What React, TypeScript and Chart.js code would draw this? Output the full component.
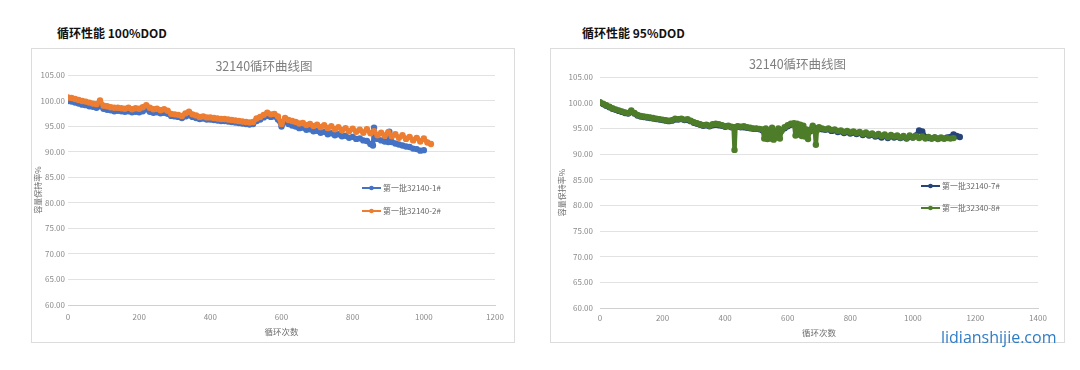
import React, { useEffect, useRef } from "react";
import { Chart, registerables } from "chart.js";
Chart.register(...registerables);

const FONT = "'Noto Sans CJK SC', 'Noto Sans', sans-serif";

// ---------- data ----------
const panelHeaders = ["循环性能 100%DOD", "循环性能 95%DOD"];
const chartTitle = "32140循环曲线图";
const xAxisTitle = "循环次数";
const yAxisTitle = "容量保持率%";
const seriesNamesLeft = ["第一批32140-1#", "第一批32140-2#"];
const seriesNamesRight = ["第一批32140-7#", "第一批32340-8#"];

// cycles for 第一批32140-1#
const cyclesLeft1 = [
  0, 10, 20, 30, 40, 50, 60, 70, 80, 90,
  100, 110, 120, 130, 140, 150, 160, 170, 180, 190,
  200, 210, 220, 230, 240, 250, 260, 270, 280, 290,
  300, 310, 320, 330, 340, 350, 360, 370, 380, 390,
  400, 410, 420, 430, 440, 450, 460, 470, 480, 490,
  500, 510, 520, 530, 540, 550, 560, 570, 580, 590,
  600, 610, 620, 630, 640, 650, 660, 670, 680, 690,
  700, 710, 720, 730, 740, 750, 760, 770, 780, 790,
  800, 810, 820, 830, 840, 850, 857, 860, 863, 870, 880, 890,
  900, 903, 906, 910, 920, 930, 940, 950, 960, 970, 980, 990,
  1000,
];

// 第一批32140-1#
const capacityLeft1 = [
  99.9, 99.8, 99.6, 99.4, 99.2, 99.1, 98.9, 98.8, 98.6, 98.9,
  98.4, 98.2, 98.1, 97.9, 98.0, 97.9, 97.8, 97.9, 97.7, 97.8,
  97.7, 97.9, 98.3, 97.8, 97.6, 97.7, 97.5, 97.6, 97.4, 97.0,
  96.9, 96.8, 96.6, 96.9, 97.1, 96.8, 96.6, 96.4, 96.5, 96.3,
  96.3, 96.2, 96.1, 96.0, 96.0, 95.9, 95.8, 95.7, 95.6, 95.5,
  95.4, 95.3, 95.4, 96.0, 96.3, 96.7, 97.0, 96.8, 96.9, 96.3,
  94.9, 95.8, 95.4, 95.1, 94.9, 94.6, 94.7, 94.3, 94.4, 94.0,
  94.1, 93.7, 93.9, 93.4, 93.6, 93.2, 93.4, 93.0, 93.1, 92.7,
  92.9, 92.5, 92.6, 92.2, 92.1, 91.5, 91.2, 94.7, 92.6, 92.5, 92.2, 92.0,
  91.9, 93.9, 92.0, 91.9, 91.6, 91.4, 91.2, 91.0, 90.9, 90.6, 90.5, 90.2,
  90.3,
];

// cycles for 第一批32140-2#
const cyclesLeft2 = [
  0, 10, 20, 30, 40, 50, 60, 70, 80, 90,
  100, 110, 120, 130, 140, 150, 160, 170, 180, 190,
  200, 210, 220, 230, 240, 250, 260, 270, 280, 290,
  300, 310, 320, 330, 340, 350, 360, 370, 380, 390,
  400, 410, 420, 430, 440, 450, 460, 470, 480, 490,
  500, 510, 520, 530, 540, 550, 560, 570, 580, 590,
  600, 610, 620, 630, 640, 650, 660, 670, 680, 690,
  700, 710, 720, 730, 740, 750, 760, 770, 780, 790,
  800, 810, 820, 830, 840, 850, 860, 870, 880, 890,
  900, 910, 920, 930, 940, 950, 960, 970, 980, 990,
  1000, 1010, 1020,
];

// 第一批32140-2#
const capacityLeft2 = [
  100.6, 100.5, 100.3, 100.1, 99.9, 99.8, 99.6, 99.4, 99.3, 100.0,
  99.0, 98.9, 98.7, 98.6, 98.6, 98.5, 98.4, 98.6, 98.3, 98.5,
  98.4, 98.7, 99.1, 98.6, 98.3, 98.4, 98.1, 98.3, 98.0, 97.4,
  97.3, 97.2, 97.0, 97.5, 97.8, 97.3, 97.1, 96.8, 96.9, 96.7,
  96.7, 96.6, 96.5, 96.4, 96.4, 96.3, 96.2, 96.1, 96.0, 95.9,
  95.8, 95.7, 95.8, 96.5, 96.8, 97.2, 97.6, 97.3, 97.4, 96.9,
  95.4, 96.6, 96.2, 96.0, 95.8, 95.5, 95.6, 95.2, 95.4, 95.0,
  95.3, 94.8, 95.2, 94.6, 95.0, 94.4, 94.8, 94.2, 94.6, 94.0,
  94.5, 93.9, 94.3, 93.7, 94.4, 93.6, 94.0, 93.2, 93.7, 93.1,
  93.8, 93.0, 93.4, 92.7, 93.2, 92.5, 92.9, 92.2, 92.7, 92.0,
  92.6, 91.8, 91.5,
];

// cycles for 第一批32140-7#
const cyclesRight7 = [
  0, 10, 20, 30, 40, 50, 60, 70, 80, 90,
  100, 110, 120, 130, 140, 150, 160, 170, 180, 190,
  200, 210, 220, 230, 240, 250, 260, 270, 280, 290,
  300, 310, 320, 330, 340, 350, 360, 370, 380, 390,
  400, 410, 420, 430, 440, 450, 460, 470, 480, 490,
  500, 510, 520, 530, 540, 550, 560, 570, 580, 590,
  600, 610, 620, 630, 640, 650, 660, 670, 680, 690,
  700, 710, 720, 730, 740, 750, 760, 770, 780, 790,
  800, 810, 820, 830, 840, 850, 860, 870, 880, 890,
  900, 910, 920, 930, 940, 950, 960, 970, 980, 990,
  1000, 1010, 1020, 1030, 1040, 1050, 1060, 1070, 1080, 1090,
  1100, 1110, 1120, 1130, 1140, 1150,
];

// 第一批32140-7#
const capacityRight7 = [
  100.0, 99.7, 99.4, 99.1, 98.8, 98.6, 98.4, 98.2, 98.0, 97.9,
  98.3, 97.9, 97.5, 97.3, 97.2, 97.1, 97.0, 96.9, 96.8, 96.7,
  96.6, 96.5, 96.4, 96.5, 96.7, 96.7, 96.8, 96.6, 96.6, 96.4,
  96.1, 95.9, 95.7, 95.5, 95.6, 95.4, 95.6, 95.7, 95.6, 95.5,
  95.3, 95.4, 95.2, 95.2, 95.3, 95.2, 95.2, 95.1, 95.0, 94.9,
  94.9, 94.8, 94.6, 94.3, 94.2, 94.1, 94.2, 94.4, 94.6, 95.0,
  95.4, 95.7, 95.8, 95.3, 95.5, 95.0, 94.6, 94.4, 95.2, 95.0,
  95.0, 94.8, 94.7, 94.8, 94.5, 94.6, 94.3, 94.4, 94.1, 94.3,
  94.0, 94.2, 93.9, 94.1, 93.7, 94.0, 93.6, 93.8, 93.4, 93.5,
  93.2, 93.6, 93.1, 93.5, 93.2, 93.4, 93.1, 93.3, 93.0, 93.4,
  93.2, 93.6, 94.6, 94.4, 93.3, 93.1, 93.0, 93.2, 93.0, 93.1,
  93.0, 93.2, 93.3, 93.8, 93.5, 93.3,
];

// cycles for 第一批32340-8#
const cyclesRight8 = [
  0, 10, 20, 30, 40, 50, 60, 70, 80, 90,
  100, 110, 120, 130, 140, 150, 160, 170, 180, 190,
  200, 210, 220, 230, 240, 250, 260, 270, 280, 290,
  300, 310, 320, 330, 340, 350, 360, 370, 380, 390,
  400, 410, 420, 427, 430, 433, 440, 450, 460, 470, 480, 490,
  500, 510, 520, 525, 530, 535, 540, 545, 550, 555, 560, 565, 570, 575, 580, 590,
  600, 610, 620, 625, 630, 635, 640, 645, 650, 655, 660, 665, 670, 680, 687, 690, 693,
  700, 710, 720, 730, 740, 750, 760, 770, 780, 790,
  800, 810, 820, 830, 840, 850, 860, 870, 880, 890,
  900, 910, 920, 930, 940, 950, 960, 970, 980, 990,
  1000, 1010, 1020, 1030, 1040, 1050, 1060, 1070, 1080, 1090,
  1100, 1110, 1120, 1130,
];

// 第一批32340-8#
const capacityRight8 = [
  100.1, 99.8, 99.5, 99.2, 98.9, 98.7, 98.5, 98.3, 98.1, 98.0,
  98.5, 98.0, 97.6, 97.4, 97.3, 97.2, 97.1, 97.0, 96.9, 96.8,
  96.7, 96.6, 96.5, 96.6, 96.9, 96.8, 96.9, 96.7, 96.8, 96.5,
  96.2, 96.0, 95.8, 95.6, 95.7, 95.5, 95.8, 95.9, 95.8, 95.6,
  95.4, 95.5, 95.3, 95.2, 90.8, 95.2, 95.4, 95.3, 95.4, 95.2, 95.1, 95.0,
  95.0, 94.9, 94.8, 93.0, 95.0, 92.9, 94.6, 93.0, 95.1, 92.8, 94.4, 93.2, 95.0, 93.0, 94.5, 95.2,
  95.6, 95.9, 96.0, 93.6, 95.9, 93.8, 95.7, 93.5, 95.5, 93.4, 94.8, 92.9, 94.6, 95.5, 94.4, 91.8, 94.6,
  95.2, 95.0, 94.8, 95.0, 94.7, 94.8, 94.5, 94.6, 94.3, 94.5,
  94.2, 94.4, 94.1, 94.3, 93.9, 94.2, 93.8, 94.0, 93.6, 93.9,
  93.5, 93.8, 93.3, 93.7, 93.4, 93.6, 93.2, 93.5, 93.1, 93.6,
  93.2, 93.5, 93.1, 93.4, 93.0, 93.3, 93.0, 93.2, 92.9, 93.2,
  93.0, 93.1, 93.0, 93.1,
];

const yMin = 60;
const yMax = 105;
const yStep = 5;
const xStep = 200;
const xMaxLeft = 1200;
const xMaxRight = 1400;

const colorsLeft = ["#4472C4", "#ED7D31"];
const colorsRight = ["#264478", "#4E7D2A"];

function toPoints(xs: number[], ys: number[]) {
  return ys.map((y, i) => ({ x: xs[i], y }));
}

type PanelProps = {
  left: number;
  top: number;
  width: number;
  height: number;
  xMax: number;
  series: { label: string; xs: number[]; ys: number[]; color: string; order: number }[];
  padLeft: number;
  padRight: number;
  yWidth: number;
  yTickPad: number;
  xHeight: number;
  xTickPad: number;
  xTitlePadBottom: number;
  titlePadTop: number;
  titlePadBottom: number;
};

function ChartPanel(p: PanelProps) {
  const ref = useRef<HTMLCanvasElement | null>(null);
  useEffect(() => {
    if (!ref.current) return;
    const gray = "#8a8a8a";
    const chart = new Chart(ref.current, {
      type: "line",
      data: {
        datasets: p.series.map((s) => ({
          label: s.label,
          data: toPoints(s.xs, s.ys),
          borderColor: s.color,
          backgroundColor: s.color,
          borderWidth: 4.5,
          borderJoinStyle: "round",
          borderCapStyle: "round",
          pointRadius: 3.2,
          pointBorderWidth: 0,
          pointBackgroundColor: s.color,
          tension: 0,
          order: s.order,
        })),
      },
      options: {
        animation: false,
        responsive: false,
        maintainAspectRatio: false,
        layout: { padding: { left: p.padLeft, right: p.padRight, top: 0, bottom: 0 } },
        plugins: {
          legend: { display: false },
          tooltip: { enabled: false },
          title: {
            display: true,
            text: chartTitle,
            color: "#7f7f7f",
            font: { family: FONT, size: 12.5, weight: "normal" },
            padding: { top: p.titlePadTop, bottom: p.titlePadBottom },
          },
        },
        scales: {
          x: {
            type: "linear",
            min: 0,
            max: p.xMax,
            ticks: {
              stepSize: xStep,
              color: gray,
              font: { family: FONT, size: 8 },
              padding: p.xTickPad,
              maxRotation: 0,
              callback: (v: any) => String(v),
            },
            grid: { display: false, drawTicks: false },
            border: { display: true, color: "#d0d0d0" },
            title: {
              display: true,
              text: xAxisTitle,
              color: "#6f6f6f",
              font: { family: FONT, size: 8.5 },
              padding: { top: 0, bottom: p.xTitlePadBottom },
            },
            afterFit: (s: any) => {
              s.height = p.xHeight;
            },
          },
          y: {
            min: yMin,
            max: yMax,
            ticks: {
              stepSize: yStep,
              color: gray,
              font: { family: FONT, size: 8 },
              padding: p.yTickPad,
              callback: (v: any) => Number(v).toFixed(2),
            },
            grid: { color: "#e2e2e2", drawTicks: false, lineWidth: 1 },
            border: { display: false },
            title: {
              display: true,
              text: yAxisTitle,
              color: "#6f6f6f",
              font: { family: FONT, size: 8 },
              padding: { top: 0, bottom: 0 },
            },
            afterFit: (s: any) => {
              s.width = p.yWidth;
            },
          },
        },
      },
    });
    return () => chart.destroy();
  }, []);
  return (
    <div
      style={{
        position: "absolute",
        left: p.left - 1,
        top: p.top - 1,
        width: p.width,
        height: p.height,
        border: "1px solid #dcdcdc",
        background: "#fff",
      }}
    >
      <canvas ref={ref} width={p.width} height={p.height} style={{ display: "block", width: p.width, height: p.height }} />
    </div>
  );
}

function LegendItem({ x, y, color, label }: { x: number; y: number; color: string; label: string }) {
  return (
    <div
      style={{
        position: "absolute",
        left: x,
        top: y - 6,
        height: 12,
        display: "flex",
        alignItems: "center",
        whiteSpace: "nowrap",
      }}
    >
      <svg width={19} height={8} style={{ display: "block" }}>
        <line x1={0} y1={4} x2={19} y2={4} stroke={color} strokeWidth={2} />
        <circle cx={9.5} cy={4} r={2.3} fill={color} />
      </svg>
      <span style={{ marginLeft: 2, fontSize: 8, color: "#666", fontFamily: FONT, lineHeight: "12px" }}>{label}</span>
    </div>
  );
}

export default function App() {
  return (
    <div
      style={{
        position: "fixed",
        left: 0,
        top: 0,
        width: 1080,
        height: 370,
        background: "#fff",
        overflow: "hidden",
      }}
    >
      <div
        style={{
          position: "absolute",
          left: 57,
          top: 25,
          fontFamily: FONT,
          fontWeight: 700,
          fontSize: 12,
          lineHeight: "16px",
          color: "#111",
          whiteSpace: "nowrap",
        }}
      >
        {panelHeaders[0]}
      </div>
      <div
        style={{
          position: "absolute",
          left: 582,
          top: 25,
          fontFamily: FONT,
          fontWeight: 700,
          fontSize: 12,
          lineHeight: "16px",
          color: "#111",
          whiteSpace: "nowrap",
        }}
      >
        {panelHeaders[1]}
      </div>

      <ChartPanel
        left={32}
        top={49}
        width={482}
        height={293}
        xMax={xMaxLeft}
        series={[
          { label: seriesNamesLeft[0], xs: cyclesLeft1, ys: capacityLeft1, color: colorsLeft[0], order: 2 },
          { label: seriesNamesLeft[1], xs: cyclesLeft2, ys: capacityLeft2, color: colorsLeft[1], order: 1 },
        ]}
        padLeft={1}
        padRight={19}
        yWidth={35}
        yTickPad={3}
        xHeight={37}
        xTickPad={7}
        xTitlePadBottom={5}
        titlePadTop={9.5}
        titlePadBottom={1.5}
      />
      <ChartPanel
        left={551}
        top={49}
        width={513}
        height={293}
        xMax={xMaxRight}
        series={[
          { label: seriesNamesRight[0], xs: cyclesRight7, ys: capacityRight7, color: colorsRight[0], order: 2 },
          { label: seriesNamesRight[1], xs: cyclesRight8, ys: capacityRight8, color: colorsRight[1], order: 1 },
        ]}
        padLeft={6}
        padRight={26}
        yWidth={43}
        yTickPad={7}
        xHeight={34}
        xTickPad={5}
        xTitlePadBottom={4}
        titlePadTop={7.5}
        titlePadBottom={5.5}
      />

      <LegendItem x={362} y={188} color={colorsLeft[0]} label={seriesNamesLeft[0]} />
      <LegendItem x={362} y={211} color={colorsLeft[1]} label={seriesNamesLeft[1]} />
      <LegendItem x={921} y={186} color={colorsRight[0]} label={seriesNamesRight[0]} />
      <LegendItem x={921} y={208} color={colorsRight[1]} label={seriesNamesRight[1]} />

      <div
        style={{
          position: "absolute",
          left: 941,
          top: 326,
          fontFamily: "'Open Sans', sans-serif",
          fontSize: 16,
          lineHeight: "22px",
          color: "#2F7CC6",
          whiteSpace: "nowrap",
        }}
      >
        lidianshijie.com
      </div>
    </div>
  );
}
